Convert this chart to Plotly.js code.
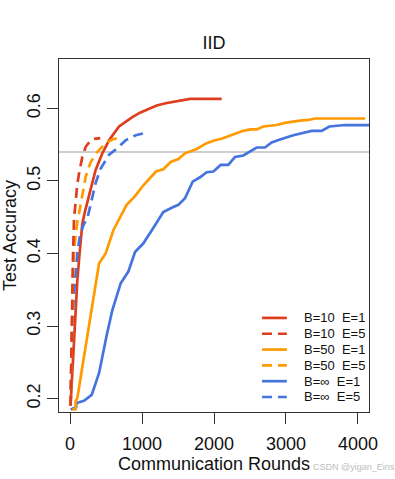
<!DOCTYPE html>
<html>
<head>
<meta charset="utf-8">
<script src="https://cdn.plot.ly/plotly-3.0.1.min.js"></script>
<style>html,body{margin:0;padding:0;background:#fff;}#chart{width:395px;height:479px;}</style>
</head>
<body>
<div id="chart"></div>
<script>
// ---- data ----
const seriesNames = ["B=10\u00A0\u00A0E=1", "B=10\u00A0\u00A0E=5", "B=50\u00A0\u00A0E=1", "B=50\u00A0\u00A0E=5", "B=\u221E\u00A0\u00A0E=1", "B=\u221E\u00A0\u00A0E=5"];

const b10e1X = [10, 15, 30, 55, 79, 100, 125, 150, 171, 208, 250, 287, 356, 449, 542, 681, 866, 972, 1097, 1204, 1329, 1435, 1550, 1667, 2106];
const b10e1Y = [0.195, 0.205, 0.235, 0.285, 0.322, 0.36, 0.391, 0.418, 0.441, 0.458, 0.475, 0.489, 0.515, 0.538, 0.556, 0.575, 0.588, 0.594, 0.599, 0.604, 0.607, 0.609, 0.611, 0.613, 0.613];

const b10e5X = [8, 15, 28, 42, 56, 79, 100, 125, 171, 218, 287, 340, 420];
const b10e5Y = [0.19, 0.24, 0.33, 0.40, 0.448, 0.474, 0.494, 0.510, 0.533, 0.547, 0.556, 0.558, 0.559];

const b50e1X = [32, 75, 79, 101, 180, 250, 330, 403, 495, 602, 750, 787, 903, 1019, 1194, 1296, 1398, 1505, 1597, 1759, 1898, 2014, 2106, 2199, 2292, 2407, 2509, 2593, 2685, 2870, 2986, 3194, 3310, 3403, 4100];
const b50e1Y = [0.185, 0.185, 0.197, 0.200, 0.249, 0.292, 0.341, 0.386, 0.400, 0.432, 0.460, 0.467, 0.479, 0.494, 0.513, 0.516, 0.526, 0.530, 0.538, 0.544, 0.552, 0.556, 0.558, 0.562, 0.565, 0.569, 0.571, 0.571, 0.575, 0.577, 0.580, 0.583, 0.584, 0.586, 0.586];

const b50e5X = [8, 15, 28, 40, 56, 80, 100, 125, 171, 218, 287, 380, 495, 588, 720];
const b50e5Y = [0.19, 0.23, 0.31, 0.37, 0.405, 0.43, 0.443, 0.455, 0.478, 0.506, 0.526, 0.540, 0.552, 0.557, 0.561];

const binfe1X = [10, 60, 85, 90, 194, 301, 403, 509, 588, 704, 810, 903, 1019, 1150, 1296, 1412, 1505, 1597, 1704, 1806, 1898, 1991, 2093, 2199, 2292, 2407, 2523, 2593, 2708, 2801, 2917, 3102, 3356, 3495, 3602, 3819, 4200];
const binfe1Y = [0.185, 0.187, 0.188, 0.194, 0.197, 0.205, 0.235, 0.287, 0.322, 0.359, 0.375, 0.402, 0.414, 0.434, 0.457, 0.463, 0.467, 0.476, 0.499, 0.505, 0.512, 0.513, 0.522, 0.522, 0.533, 0.535, 0.542, 0.546, 0.546, 0.553, 0.557, 0.563, 0.569, 0.569, 0.575, 0.577, 0.577];

const binfe5X = [8, 14, 28, 49, 75, 101, 139, 190, 240, 310, 356, 426, 542, 657, 773, 912, 1090];
const binfe5Y = [0.19, 0.239, 0.294, 0.336, 0.37, 0.40, 0.425, 0.44, 0.448, 0.478, 0.497, 0.517, 0.536, 0.545, 0.556, 0.563, 0.567];

const targetAccuracy = 0.54;
const xTickVals = [0, 1000, 2000, 3000, 4000];
const yTickVals = [0.2, 0.3, 0.4, 0.5, 0.6];
const yTickText = ["0.2", "0.3", "0.4", "0.5", "0.6"];

// ---- styles ----
const RED = "#DE3E1E", ORANGE = "#FF9A00", BLUE = "#4574DE";
const colors = [RED, RED, ORANGE, ORANGE, BLUE, BLUE];
const dashes = ["solid", "10px,6px", "solid", "10px,6px", "solid", "10px,6px"];
const xs = [b10e1X, b10e5X, b50e1X, b50e5X, binfe1X, binfe5X];
const ys = [b10e1Y, b10e5Y, b50e1Y, b50e5Y, binfe1Y, binfe5Y];
const drawOrder = [4, 2, 0, 5, 3, 1];

const traces = drawOrder.map(i => ({
  x: xs[i], y: ys[i], type: "scatter", mode: "lines", name: seriesNames[i],
  line: {color: colors[i], width: 2.7, dash: dashes[i]},
  showlegend: false, hoverinfo: "skip"
}));

const FONT = "Liberation Sans, Arial, sans-serif";
const shapes = [{
  type: "line", xref: "paper", x0: 0, x1: 1, yref: "y", y0: targetAccuracy, y1: targetAccuracy,
  line: {color: "#CFCFCF", width: 2}, layer: "below"
}];
const annotations = [];
// manual legend (compact R-style)
const legTop = 0.2665, legStep = 0.0448;
seriesNames.forEach((nm, i) => {
  const yy = legTop - i * legStep;
  shapes.push({type: "line", xref: "paper", yref: "paper", x0: 0.655, x1: 0.735, y0: yy, y1: yy,
    line: {color: colors[i], width: 2.7, dash: dashes[i]}});
  annotations.push({xref: "paper", yref: "paper", x: 0.784, y: yy, xanchor: "left", yanchor: "middle",
    text: nm, showarrow: false, font: {family: FONT, size: 13, color: "#111"}});
});
annotations.push({xref: "paper", yref: "paper", x: 0.812, y: -0.157, xanchor: "left", yanchor: "middle",
  text: "CSDN @yigan_Eins", showarrow: false, font: {family: FONT, size: 9, color: "#BDBDBD"}});

const layout = {
  width: 395, height: 479,
  margin: {l: 59, r: 26, t: 59, b: 67, pad: 0},
  paper_bgcolor: "#fff", plot_bgcolor: "#fff",
  font: {family: FONT, size: 18, color: "#111"},
  title: {text: "IID", xref: "paper", x: 0.5, xanchor: "center", yref: "container", y: 1 - 42.7 / 479, yanchor: "middle",
    font: {family: FONT, size: 18, color: "#111"}},
  xaxis: {
    range: [-153, 4153], tickvals: xTickVals, ticks: "outside", ticklen: 11, tickwidth: 1, tickcolor: "#333",
    ticklabelstandoff: 4,
    showline: true, mirror: true, linecolor: "#333", linewidth: 1, showgrid: false, zeroline: false,
    tickfont: {family: FONT, size: 18, color: "#111"},
    title: {text: "Communication Rounds", font: {family: FONT, size: 18, color: "#111"}, standoff: 2}
  },
  yaxis: {
    range: [0.1815, 0.668], tickvals: yTickVals, ticktext: yTickText, tickangle: -90,
    ticks: "outside", ticklen: 11, tickwidth: 1, tickcolor: "#333",
    showline: true, mirror: true, linecolor: "#333", linewidth: 1, showgrid: false, zeroline: false,
    tickfont: {family: FONT, size: 18, color: "#111"},
    title: {text: "Test Accuracy", font: {family: FONT, size: 18, color: "#111"}, standoff: 6}
  },
  shapes: shapes, annotations: annotations, showlegend: false
};

Plotly.newPlot("chart", traces, layout, {displayModeBar: false, staticPlot: true});
</script>
</body>
</html>
